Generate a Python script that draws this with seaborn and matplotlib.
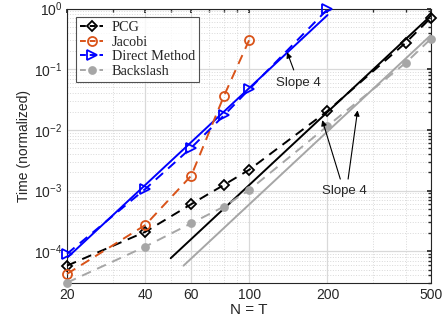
import numpy as np
import pandas as pd
import matplotlib
matplotlib.use("Agg")
import matplotlib.pyplot as plt
import seaborn as sns

# ---- data ----
N_pcg = [20, 40, 60, 80, 100, 200, 400, 500]
t_pcg = [5.8e-5, 2.1e-4, 6.0e-4, 1.24e-3, 2.2e-3, 2.05e-2, 0.275, 0.71]

N_jac = [20, 40, 60, 80, 100]
t_jac = [4.25e-5, 2.72e-4, 1.77e-3, 3.6e-2, 0.30]

N_dir = [20, 40, 60, 80, 100, 200]
t_dir = [9.1e-5, 1.07e-3, 5.1e-3, 1.73e-2, 4.65e-2, 0.97]

N_bs = [20, 40, 60, 80, 100, 200, 400, 500]
t_bs = [3.05e-5, 1.2e-4, 2.9e-4, 5.45e-4, 1.02e-3, 1.16e-2, 0.128, 0.32]

# slope-4 reference lines: (N start, N end, value at start)
ref_dir = (20, 200, 7.8e-5)
ref_pcg = (50, 500, 7.7e-5)
ref_bs = (56, 500, 5.8e-5)

xticks = [20, 40, 60, 100, 200, 500]
yticks = [1e-4, 1e-3, 1e-2, 1e-1, 1e0]
labels = ["PCG", "Jacobi", "Direct Method", "Backslash"]

sns.set_theme(style="white")
plt.rcParams['font.family'] = ['Liberation Sans', 'DejaVu Sans']
plt.rcParams['mathtext.fontset'] = 'custom'
plt.rcParams['mathtext.rm'] = 'Liberation Sans'

fig = plt.figure(figsize=(4.44, 3.28), dpi=100)
ax = fig.add_axes([0.151, 0.137, 0.820, 0.837])
ax.set_xscale('log')
ax.set_yscale('log')

orange = '#D95319'
blue = '#0000FF'
gray = '#A6A6A6'
dash = (0, (5, 3.5))

def ref_line(r, color):
    n0, n1, v0 = r
    df = pd.DataFrame({'N': [n0, n1], 't': [v0, v0 * (n1 / n0) ** 4]})
    sns.lineplot(data=df, x='N', y='t', ax=ax, color=color, lw=1.4,
                 linestyle='-', legend=False, zorder=2)

ref_line(ref_dir, blue)
ref_line(ref_pcg, 'black')
ref_line(ref_bs, gray)

series = [
    (N_pcg, t_pcg, 'black', 'D', 'none', 5.5, labels[0]),
    (N_jac, t_jac, orange, 'o', 'none', 6.5, labels[1]),
    (N_dir, t_dir, blue, '>', 'none', 7, labels[2]),
    (N_bs, t_bs, gray, 'o', gray, 5, labels[3]),
]
handles = []
for n, t, c, m, mfc, ms, lab in series:
    df = pd.DataFrame({'N': n, 't': t})
    sns.lineplot(data=df, x='N', y='t', ax=ax, color=c, lw=1.4,
                 linestyle=dash, marker=m, markersize=ms,
                 markerfacecolor=mfc, markeredgecolor=c, markeredgewidth=1.3,
                 legend=False, zorder=3, clip_on=False)
    h, = ax.plot([], [], color=c, lw=1.4, linestyle=(0, (3, 2)), marker=m,
                 markersize=ms, markerfacecolor=mfc, markeredgecolor=c,
                 markeredgewidth=1.3, label=lab)
    handles.append(h)

ax.set_xlim(20, 500)
ax.set_ylim(3e-5, 1)
ax.set_xticks(xticks)
ax.set_xticklabels([str(x) for x in xticks])
ax.set_xticks([30, 50, 70, 80, 90, 300, 400], minor=True)
ax.xaxis.set_minor_formatter(matplotlib.ticker.NullFormatter())
ax.set_yticks(yticks)
ax.set_yticklabels([r'$10^{%d}$' % int(np.log10(y)) for y in yticks])
ax.yaxis.set_minor_locator(matplotlib.ticker.LogLocator(base=10, subs=np.arange(2, 10), numticks=20))
ax.yaxis.set_minor_formatter(matplotlib.ticker.NullFormatter())

ax.grid(True, which='major', color='#D9D9D9', lw=0.9, linestyle='-')
ax.grid(True, which='minor', color='#D9D9D9', lw=0.7, linestyle=':')
ax.set_axisbelow(True)
ax.tick_params(which='both', direction='in', top=True, right=True,
               labelsize=10, colors='#262626', length=3)
ax.tick_params(which='minor', length=2)
for s in ax.spines.values():
    s.set_color('#262626')
    s.set_linewidth(0.8)

ax.set_xlabel('N = T', fontsize=11, color='#262626', labelpad=1)
ax.set_ylabel('Time (normalized)', fontsize=10, color='#262626', labelpad=2)

leg = ax.legend(handles=handles, loc='upper left', bbox_to_anchor=(0.013, 0.985),
                prop={'family': 'Liberation Serif', 'size': 10.3},
                frameon=True, fancybox=False, edgecolor='#262626',
                handlelength=1.6, handletextpad=0.6, borderpad=0.3,
                labelspacing=0.1, borderaxespad=0.3)
leg.get_frame().set_linewidth(0.8)

arrow = dict(arrowstyle='-|>', color='black', lw=0.8, mutation_scale=8)
ax.annotate('Slope 4', xy=(140, 0.19), xytext=(155, 0.059),
            ha='center', va='center', fontsize=9.5, color='#262626',
            family='Liberation Sans',
            arrowprops=dict(arrow, shrinkA=3, shrinkB=0))
ax.annotate('', xy=(191, 0.0145), xytext=(224, 1.55e-3),
            arrowprops=dict(arrow, shrinkA=0, shrinkB=0))
ax.annotate('', xy=(261, 0.021), xytext=(240, 1.55e-3),
            arrowprops=dict(arrow, shrinkA=0, shrinkB=0))
ax.text(232, 1.0e-3, 'Slope 4', ha='center', va='center', fontsize=9.5,
        color='#262626', family='Liberation Sans')

fig.savefig('out.png', dpi=100)
